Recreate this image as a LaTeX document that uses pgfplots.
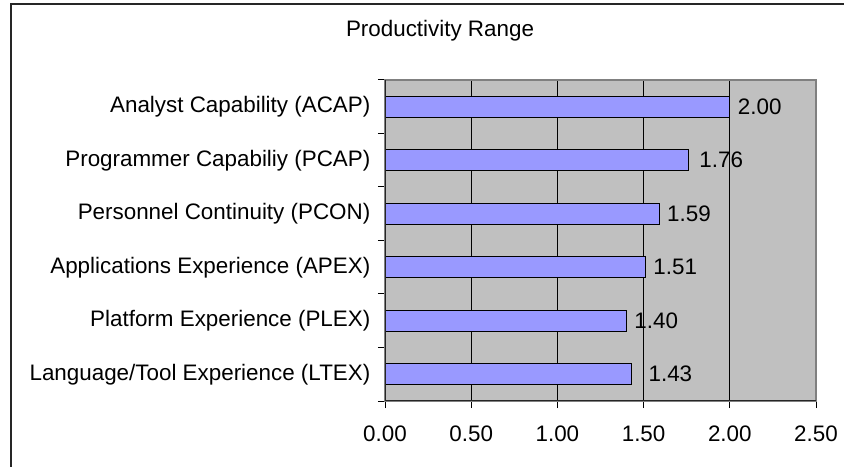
\documentclass[border=0pt]{standalone}
\usepackage{fontspec}
\setmainfont{Liberation Sans}
\usepackage{pgfplots}
\pgfplotsset{compat=1.18}
\definecolor{plotgray}{HTML}{C0C0C0}
\definecolor{barblue}{HTML}{9999FF}
\newcommand{\chartfont}{\fontsize{22.4bp}{27bp}\selectfont}
\begin{document}
\chartfont
\begin{tikzpicture}
\useasboundingbox (0,0) rectangle (844bp,467bp);
\draw[line width=1.5bp, black!85] (11bp,0) -- (11bp,463bp) -- (844bp,463bp);
\node[font=\chartfont] at (440bp,436bp) {Productivity Range};
\begin{axis}[
  at={(385bp,66bp)}, anchor=south west,
  scale only axis, width=431bp, height=321bp,
  xbar, bar width=0.39,
  xmin=0, xmax=2.5, ymin=-0.5, ymax=5.5,
  xtick={0,0.5,1,1.5,2,2.5},
  xticklabels={0.00,0.50,1.00,1.50,2.00,2.50},
  ytick={-0.5,0.5,1.5,2.5,3.5,4.5,5.5},
  y tick label as interval,
  yticklabels={Language/Tool Experience (LTEX), Platform Experience (PLEX), Applications Experience (APEX), Personnel Continuity (PCON), Programmer Capabiliy (PCAP), Analyst Capability (ACAP)},
  tick align=outside, major tick length=7bp,
  xtick pos=bottom, ytick pos=left,
  xmajorgrids, grid style={black, line width=0.9bp},
  axis background/.style={fill=plotgray},
  axis line style={draw=gray, line width=1.5bp},
  tick style={black, line width=1bp},
  ticklabel style={font=\chartfont, black},
  xticklabel style={yshift=-10bp},
  /pgf/number format/assume math mode=true,
  nodes near coords={\pgfmathprintnumber[fixed,zerofill,precision=2]{\pgfplotspointmeta}},
  nodes near coords style={font=\chartfont, black},
  point meta=x,
  visualization depends on={\thisrow{off} \as \off},
  every node near coord/.append style={xshift=\off bp},
]
\addplot[fill=barblue, draw=black, line width=1.2bp] table {
x y off
2.00 5 0
1.76 4 3
1.59 3 0
1.51 2 0
1.40 1 0
1.43 0 9
};
\draw[black!85, line width=1.5bp] (rel axis cs:0,1) -- (rel axis cs:0,0) -- (rel axis cs:1,0);
\end{axis}
\end{tikzpicture}
\end{document}
